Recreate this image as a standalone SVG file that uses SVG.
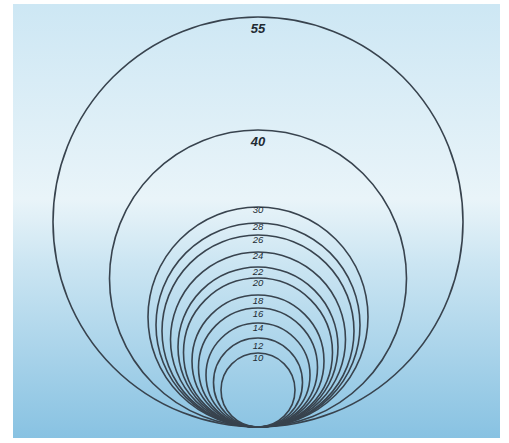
<svg xmlns="http://www.w3.org/2000/svg" width="509" height="443" viewBox="0 0 509 443">
<defs>
<linearGradient id="bg" x1="0" y1="0" x2="0" y2="1">
<stop offset="0" stop-color="#cde7f4"/>
<stop offset="0.45" stop-color="#e9f4f9"/>
<stop offset="0.6" stop-color="#cbe5f2"/>
<stop offset="1" stop-color="#88c2e2"/>
</linearGradient>
<style>
.c{fill:none;stroke:#38434e;stroke-width:1.6}
.l{font-family:"Liberation Sans",Arial,sans-serif;font-style:italic;fill:#222b33;text-anchor:middle}
.s{font-size:9.5px}
.b{font-size:13px;font-weight:bold}
</style>
</defs>
<rect width="509" height="443" fill="#ffffff"/>
<rect x="13" y="4" width="487" height="434" fill="url(#bg)"/>
<g id="c55"><circle class="c" cx="258" cy="222" r="205"/><text class="l b" x="258" y="33">55</text></g>
<g id="c40"><circle class="c" cx="258" cy="278.5" r="148.5"/><text class="l b" x="258" y="146">40</text></g>
<g id="c30"><circle class="c" cx="258" cy="317" r="110"/><text class="l s" x="258" y="213">30</text></g>
<g id="c28"><circle class="c" cx="258" cy="325" r="102"/><text class="l s" x="258" y="230">28</text></g>
<g id="c26"><circle class="c" cx="258" cy="331" r="96"/><text class="l s" x="258" y="243">26</text></g>
<g id="c24"><circle class="c" cx="258" cy="339.5" r="87.5"/><text class="l s" x="258" y="259">24</text></g>
<g id="c22"><circle class="c" cx="258" cy="347" r="80"/><text class="l s" x="258" y="275">22</text></g>
<g id="c20"><circle class="c" cx="258" cy="352.5" r="74.5"/><text class="l s" x="258" y="286">20</text></g>
<g id="c18"><circle class="c" cx="258" cy="361" r="66"/><text class="l s" x="258" y="304">18</text></g>
<g id="c16"><circle class="c" cx="258" cy="367.5" r="59.5"/><text class="l s" x="258" y="317">16</text></g>
<g id="c14"><circle class="c" cx="258" cy="375" r="52"/><text class="l s" x="258" y="331">14</text></g>
<g id="c12"><circle class="c" cx="258" cy="382.5" r="44.5"/><text class="l s" x="258" y="349">12</text></g>
<g id="c10"><circle class="c" cx="258" cy="390" r="37"/><text class="l s" x="258" y="361">10</text></g>
</svg>
